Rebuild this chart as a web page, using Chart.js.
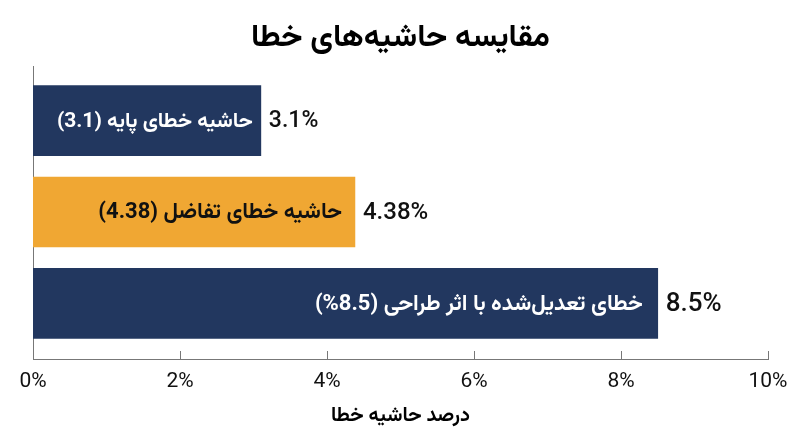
<!DOCTYPE html>
<html><head><meta charset="utf-8">
<script src="https://cdn.jsdelivr.net/npm/chart.js@4"></script>
<style>html,body{margin:0;padding:0;background:#fff}#wrap{width:800px;height:447px}</style>
</head><body><div id="wrap"><canvas id="c"></canvas></div>
<script>
const categories = ['حاشیه خطای پایه (3.1)', 'حاشیه خطای تفاضل (4.38)', 'خطای تعدیل\u200cشده با اثر طراحی (\u2066%8.5\u2069)'];
const values = [3.1, 4.38, 8.5];
const valueLabels = ['3.1%', '4.38%', '8.5%'];
const xTicks = [0, 2, 4, 6, 8, 10];
const title = 'مقایسه حاشیه\u200cهای خطا';
const xTitle = 'درصد حاشیه خطا';

const FONT = "Roboto, Vazirmatn, 'Noto Sans Arabic', 'DejaVu Sans', sans-serif";
const barColors = ['#22375F', '#F0A733', '#22375F'];
const innerTextColors = ['#ffffff', '#111111', '#ffffff'];
const innerFontSizes = [21, 22, 22];
const innerPads = [8, 13, 15];
const valueFontSizes = [23, 24, 26];

const labelPlugin = {
  id: 'barLabels',
  afterDatasetsDraw(chart) {
    const ctx = chart.ctx;
    const meta = chart.getDatasetMeta(0);
    meta.data.forEach((bar, i) => {
      ctx.save();
      ctx.textBaseline = 'middle';
      ctx.direction = 'rtl';
      ctx.textAlign = 'right';
      ctx.fillStyle = innerTextColors[i];
      ctx.font = 'bold ' + innerFontSizes[i] + 'px ' + FONT;
      ctx.fillText(categories[i], bar.x - innerPads[i], bar.y + 1);
      ctx.direction = 'ltr';
      ctx.textAlign = 'left';
      ctx.fillStyle = '#111111';
      ctx.font = '500 ' + valueFontSizes[i] + 'px ' + FONT;
      ctx.fillText(valueLabels[i], bar.x + 8, bar.y + 1);
      ctx.restore();
    });
  },
  afterDraw(chart) {
    const ctx = chart.ctx;
    const xs = chart.scales.x;
    const bottom = chart.chartArea.bottom;
    ctx.save();
    ctx.strokeStyle = '#777777';
    ctx.lineWidth = 1;
    xTicks.forEach(t => {
      const px = Math.round(xs.getPixelForValue(t)) + 0.5;
      ctx.beginPath();
      ctx.moveTo(px, bottom);
      ctx.lineTo(px, bottom - 8);
      ctx.stroke();
    });
    ctx.restore();
  }
};

new Chart(document.getElementById('c'), {
  type: 'bar',
  data: {
    datasets: [{
      data: values.map((v, i) => ({ x: v, y: i })),
      backgroundColor: barColors,
      barThickness: 70
    }]
  },
  options: {
    indexAxis: 'y',
    responsive: true,
    maintainAspectRatio: false,
    animation: false,
    layout: { padding: { left: 33, right: 32, top: 8, bottom: 0 } },
    plugins: {
      legend: { display: false },
      tooltip: { enabled: false },
      title: {
        display: true, text: title, color: '#000',
        font: { family: FONT, size: 31.5, weight: 'bold' },
        padding: { top: 11, bottom: 10 }
      }
    },
    scales: {
      x: {
        type: 'linear', min: 0, max: 10,
        afterBuildTicks: s => { s.ticks = xTicks.map(v => ({ value: v })); },
        afterFit: s => { s.height = 88; },
        ticks: { callback: v => v + '%', color: '#111', font: { family: FONT, size: 21 }, padding: 2, maxRotation: 0 },
        grid: { display: false },
        border: { display: true, color: '#777' },
        title: { display: true, text: xTitle, color: '#000', font: { family: FONT, size: 20, weight: 'bold' }, padding: { top: 4, bottom: 19 } }
      },
      y: {
        type: 'linear', min: -0.59, max: 2.61, reverse: true, offset: false,
        ticks: { display: false },
        grid: { display: false, offset: false },
        border: { display: true, color: '#777' },
        afterFit: s => { s.width = 0; }
      }
    }
  },
  plugins: [labelPlugin]
});
</script></body></html>
